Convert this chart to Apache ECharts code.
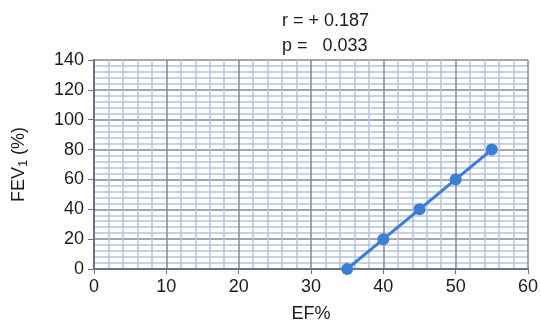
<!DOCTYPE html>
<html>
<head>
<meta charset="utf-8">
<script src="https://cdn.jsdelivr.net/npm/echarts@6/dist/echarts.min.js"></script>
<style>
  html, body { margin: 0; padding: 0; background: #fff; }
  #main { width: 541px; height: 328px; }
</style>
</head>
<body>
<div id="main"></div>
<script type="text/javascript">
	// 数据
	var efValues = [35, 40, 45, 50, 55];
	var fevValues = [0, 20, 40, 60, 80];
	var statLines = ['r = + 0.187', 'p =   0.033'];

	var lineColor = '#3a7ed6';
	var majorGrid = '#858b96';
	var minorGrid = '#b5c3dc';
	var font = 'Liberation Sans, Arial, sans-serif';

	function genPoints(xs, ys) {
		var temp = [];
		for (var i = 0; i < xs.length; i++) {
			temp.push([xs[i], ys[i]]);
		}
		return temp;
	}

	var myChart = echarts.init(document.getElementById('main'));
	myChart.setOption({
		animation: false,
		title: {
			text: statLines.join('\n'),
			left: 277,
			top: 4,
			textStyle: {
				fontFamily: font,
				fontSize: 18,
				fontWeight: 'normal',
				color: '#1a1a1a',
				lineHeight: 25
			}
		},
		grid: {
			left: 94,
			right: 13,
			top: 60,
			bottom: 57
		},
		xAxis: {
			type: 'value',
			min: 0,
			max: 60,
			interval: 10,
			name: 'EF%',
			nameLocation: 'middle',
			nameGap: 36,
			nameTextStyle: { fontFamily: font, fontSize: 18, color: '#1a1a1a' },
			axisLine: { show: true, lineStyle: { color: '#6b7385', width: 2 } },
			axisTick: { show: true, length: 5, lineStyle: { color: '#6b7385' } },
			axisLabel: { fontFamily: font, fontSize: 18, color: '#1a1a1a', margin: 9 },
			splitLine: { show: true, lineStyle: { color: majorGrid, width: 1.5 } },
			minorTick: { show: false, splitNumber: 5 },
			minorSplitLine: { show: true, lineStyle: { color: minorGrid, width: 1.5 } }
		},
		yAxis: {
			type: 'value',
			min: 0,
			max: 140,
			interval: 20,
			name: '{a|FEV}{b|1}{a| (%)}',
			nameLocation: 'middle',
			nameRotate: 90,
			nameGap: 64,
			nameTextStyle: {
				fontFamily: font,
				fontSize: 18,
				color: '#1a1a1a',
				rich: {
					a: { fontFamily: font, fontSize: 18, color: '#1a1a1a' },
					b: { fontFamily: font, fontSize: 13, color: '#1a1a1a', padding: [8, 0, 0, 0] }
				}
			},
			axisLine: { show: true, lineStyle: { color: '#6b7385', width: 2 } },
			axisTick: { show: true, length: 6, lineStyle: { color: '#6b7385' } },
			axisLabel: { fontFamily: font, fontSize: 18, color: '#1a1a1a', margin: 10 },
			splitLine: { show: true, lineStyle: { color: majorGrid, width: 1.5 } },
			minorTick: { show: false, splitNumber: 5 },
			minorSplitLine: { show: true, lineStyle: { color: minorGrid, width: 1.5 } }
		},
		series: [{
			type: 'line',
			data: genPoints(efValues, fevValues),
			symbol: 'circle',
			symbolSize: 12,
			itemStyle: { color: lineColor },
			lineStyle: { color: lineColor, width: 3 }
		}]
	});
</script>
</body>
</html>
